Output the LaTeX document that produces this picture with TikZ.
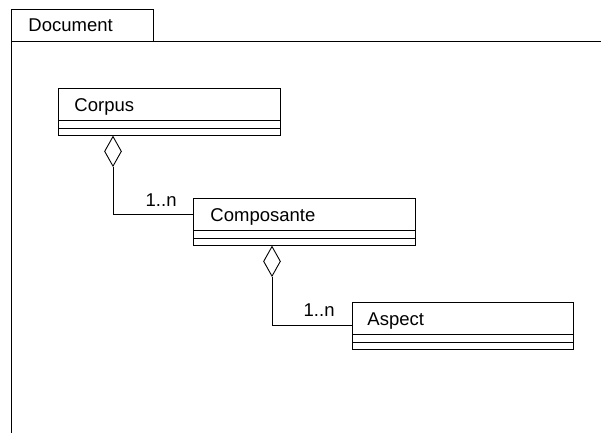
\documentclass[tikz,border=0pt]{standalone}
\usepackage{fontspec}
\setmainfont{Liberation Sans}
\usetikzlibrary{shapes.geometric}

\tikzset{
  classbox/.style={draw, rectangle, anchor=north west, inner sep=0pt,
    minimum width=#1, minimum height=47pt},
  classname/.style={anchor=base west, inner sep=0pt},
  aggdiamond/.style={draw, diamond, anchor=north, inner sep=0pt,
    minimum width=17pt, minimum height=30pt},
  multlabel/.style={anchor=base east, inner sep=0pt}
}

\begin{document}
\begin{tikzpicture}[x=1pt, y=-1pt, line width=0.9pt,
    font=\fontsize{18.5}{22}\selectfont]
            \useasboundingbox (0,0) rectangle (601,432);

            % package frame
            \node[draw, anchor=north west, inner sep=0pt,
              minimum width=142pt, minimum height=32pt] (tab) at (11,9) {};
            \node[classname] (tabname) at ([xshift=17pt, yshift=-22pt]tab.north west) {Document};
            \coordinate (framebl) at (11,440);
            \coordinate (frametr) at (610,41);
            \draw (framebl) |- (frametr);

            % classes
            \node[classbox=222pt] (corpus) at (58,88) {};
            \node[classbox=222pt] (composante) at (193,198) {};
            \node[classbox=221pt] (aspect) at (352,302) {};

            \node[classname] (corpusname) at ([xshift=16pt, yshift=-23.5pt]corpus.north west) {Corpus};
            \node[classname] (composantename) at ([xshift=17pt, yshift=-23.5pt]composante.north west) {Composante};
            \node[classname] (aspectname) at ([xshift=15pt, yshift=-23pt]aspect.north west) {Aspect};

            \foreach \c in {corpus, composante, aspect} {
              \draw ([yshift=-32pt]\c.north west) -- ([yshift=-32pt]\c.north east);
              \draw ([yshift=-40pt]\c.north west) -- ([yshift=-40pt]\c.north east);
            }

            % aggregations
            \node[aggdiamond] (agg1) at ([xshift=55pt]corpus.south west) {};
            \node[aggdiamond] (agg2) at ([xshift=79pt]composante.south west) {};

            \draw (agg1.south) |- ([yshift=-16pt]composante.north west);
            \draw (agg2.south) |- ([yshift=-23pt]aspect.north west);

            \node[multlabel] (mult1) at ([xshift=-16pt, yshift=-8pt]composante.north west) {1..n};
            \node[multlabel] (mult2) at ([xshift=-17pt, yshift=-14.5pt]aspect.north west) {1..n};
        \end{tikzpicture}
\end{document}
